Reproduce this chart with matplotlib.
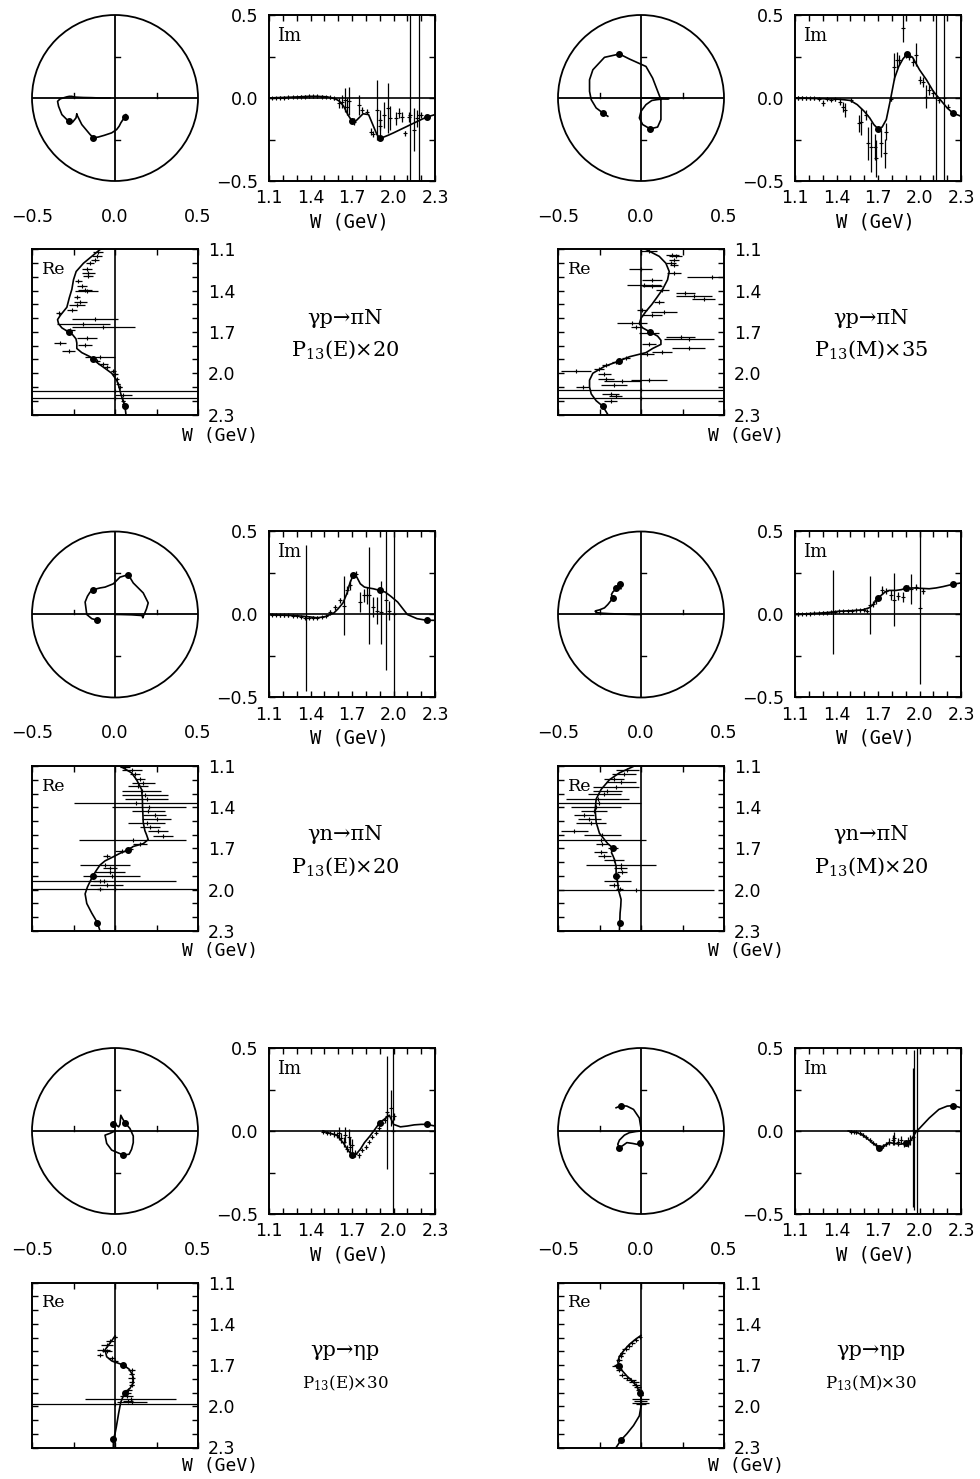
import numpy as np
import matplotlib
matplotlib.use('Agg')
from matplotlib import pyplot as plt

plt.rcParams['font.family'] = 'DejaVu Sans'
plt.rcParams['mathtext.fontset'] = 'dejavuserif'

# ---- panel 1: gamma p -> pi N, P13(E) x 20 ----
p1_w = [1.08, 1.10, 1.15, 1.20, 1.26, 1.32, 1.39, 1.45, 1.52, 1.58, 1.61, 1.64, 1.67, 1.70, 1.72,
        1.75, 1.78, 1.82, 1.85, 1.88, 1.90, 1.93, 1.96, 2.00, 2.05, 2.10, 2.15, 2.20, 2.24, 2.30]
p1_re = [-0.03, -0.09, -0.14, -0.19, -0.234, -0.25, -0.26, -0.275, -0.29, -0.33, -0.346, -0.34, -0.32, -0.28, -0.255,
         -0.235, -0.23, -0.23, -0.20, -0.15, -0.13, -0.10, -0.065, -0.02, 0.01, 0.025, 0.035, 0.048, 0.06, 0.066]
p1_im = [0.0, 0.0, 0.002, 0.003, 0.005, 0.007, 0.01, 0.01, 0.007, -0.005, -0.02, -0.05, -0.10, -0.14, -0.145,
         -0.12, -0.095, -0.10, -0.16, -0.22, -0.24, -0.235, -0.225, -0.21, -0.19, -0.17, -0.15, -0.13, -0.115, -0.10]
p1_dots = [1.70, 1.90, 2.24]
p1_im_w = [1.12, 1.15, 1.18, 1.21, 1.24, 1.27, 1.30, 1.33, 1.36, 1.39, 1.42, 1.45, 1.48, 1.51, 1.54, 1.57,
           1.605, 1.629, 1.653, 1.665, 1.677, 1.713, 1.749, 1.773, 1.81, 1.834, 1.853, 1.882, 1.90, 1.906,
           1.93, 1.962, 1.975, 2.015, 2.039, 2.063, 2.08, 2.112, 2.119, 2.148, 2.172, 2.184, 2.20, 2.232]
p1_im_v = [0.0, 0.0, 0.002, 0.003, 0.004, 0.005, 0.006, 0.008, 0.008, 0.01, 0.01, 0.01, 0.008, 0.006, 0.004, -0.002,
           -0.032, -0.022, -0.012, -0.052, -0.018, -0.143, -0.042, -0.072, -0.082, -0.203, -0.217, -0.07, -0.17, -0.133,
           -0.103, -0.06, -0.12, -0.123, -0.093, -0.113, -0.213, -0.113, -0.1, -0.19, -0.123, -0.1, -0.103, -0.117]
p1_im_e = [0.008, 0.008, 0.008, 0.008, 0.008, 0.008, 0.008, 0.008, 0.008, 0.008, 0.008, 0.008, 0.008, 0.008, 0.008, 0.008,
           0.03, 0.04, 0.07, 0.05, 0.083, 0.02, 0.06, 0.016, 0.016, 0.02, 0.016, 0.18, 0.05, 0.06,
           0.08, 0.15, 0.07, 0.04, 0.03, 0.03, 0.016, 0.03, 2.0, 0.13, 0.05, 2.0, 0.02, 0.01]
p1_re_w = [1.12, 1.144, 1.173, 1.198, 1.242, 1.271, 1.296, 1.332, 1.364, 1.393, 1.405, 1.442, 1.479, 1.503, 1.54,
           1.564, 1.608, 1.643, 1.662, 1.687, 1.743, 1.78, 1.797, 1.84, 1.882, 1.914, 1.931, 1.955, 1.98, 2.009,
           2.041, 2.078, 2.102, 2.127, 2.156, 2.183, 2.20, 2.224]
p1_re_v = [-0.10, -0.11, -0.12, -0.15, -0.17, -0.16, -0.16, -0.22, -0.20, -0.18, -0.17, -0.23, -0.21, -0.23, -0.26,
           -0.34, -0.12, -0.19, -0.07, -0.27, -0.17, -0.33, -0.18, -0.28, -0.09, -0.11, -0.07, -0.05, -0.01, 0.0,
           0.01, 0.02, 0.03, 0.0, 0.05, 0.0, 0.05, 0.054]
p1_re_e = [0.03, 0.03, 0.024, 0.024, 0.03, 0.04, 0.03, 0.02, 0.03, 0.04, 0.07, 0.02, 0.04, 0.05, 0.03,
           0.016, 0.14, 0.16, 0.19, 0.03, 0.06, 0.036, 0.04, 0.04, 0.09, 0.02, 0.03, 0.02, 0.016, 0.016,
           0.01, 0.01, 0.01, 2.0, 0.05, 2.0, 0.01, 0.01]

# ---- panel 2: gamma p -> pi N, P13(M) x 35 ----
p2_w = [1.08, 1.10, 1.15, 1.20, 1.26, 1.32, 1.39, 1.45, 1.50, 1.55, 1.60, 1.64, 1.67, 1.70, 1.73,
        1.76, 1.79, 1.82, 1.85, 1.88, 1.91, 1.95, 2.00, 2.05, 2.10, 2.15, 2.20, 2.24, 2.30]
p2_re = [0.0, 0.03, 0.11, 0.15, 0.17, 0.16, 0.13, 0.095, 0.065, 0.03, 0.0, -0.01, 0.01, 0.055, 0.10,
         0.12, 0.12, 0.07, 0.03, -0.07, -0.13, -0.22, -0.29, -0.31, -0.31, -0.30, -0.27, -0.23, -0.20]
p2_im = [0.0, 0.0, 0.0, -0.002, -0.003, -0.005, -0.006, -0.01, -0.015, -0.04, -0.08, -0.12, -0.16, -0.186, -0.175,
         -0.13, -0.01, 0.12, 0.19, 0.235, 0.265, 0.245, 0.17, 0.11, 0.04, -0.01, -0.06, -0.09, -0.11]
p2_dots = [1.70, 1.91, 2.24]
p2_im_w = [1.12, 1.15, 1.18, 1.21, 1.24, 1.27, 1.30, 1.33, 1.36, 1.39, 1.422, 1.446, 1.458, 1.506, 1.562,
           1.579, 1.61, 1.627, 1.651, 1.675, 1.687, 1.723, 1.747, 1.759, 1.795, 1.819, 1.836, 1.855, 1.879, 1.903,
           1.927, 1.951, 1.975, 2.0, 2.024, 2.048, 2.072, 2.096, 2.12, 2.144, 2.18, 2.204]
p2_im_v = [0.0, 0.0, -0.002, -0.003, -0.003, -0.005, -0.03, -0.005, -0.01, -0.008, -0.022, -0.052, -0.072, -0.012, -0.153,
           -0.143, -0.103, -0.274, -0.294, -0.294, -0.364, -0.274, -0.334, -0.203, -0.008, 0.189, 0.229, 0.229, 0.42, 0.26,
           0.25, 0.219, 0.26, 0.109, 0.099, 0.008, 0.048, 0.028, 0.0, -0.012, 0.0, -0.052]
p2_im_e = [0.01, 0.01, 0.01, 0.01, 0.01, 0.01, 0.02, 0.01, 0.01, 0.01, 0.02, 0.03, 0.04, 0.01, 0.05,
           0.08, 0.03, 0.10, 0.15, 0.08, 0.11, 0.08, 0.09, 0.05, 0.01, 0.08, 0.05, 0.03, 0.08, 0.02,
           0.02, 0.024, 0.07, 0.024, 0.03, 0.07, 0.03, 0.02, 2.0, 0.02, 2.0, 0.016]
p2_re_w = [1.112, 1.137, 1.149, 1.173, 1.198, 1.21, 1.242, 1.271, 1.303, 1.32, 1.357, 1.369, 1.393, 1.418, 1.435,
           1.462, 1.479, 1.54, 1.557, 1.577, 1.638, 1.662, 1.706, 1.74, 1.748, 1.784, 1.816, 1.845, 1.858, 1.887,
           1.919, 1.943, 1.968, 1.987, 2.009, 2.041, 2.046, 2.058, 2.082, 2.102, 2.122, 2.151, 2.168, 2.18, 2.205]
p2_re_v = [0.048, 0.188, 0.208, 0.198, 0.178, 0.198, -0.002, 0.198, 0.428, 0.068, 0.018, 0.068, 0.128, 0.268, 0.318,
           0.378, 0.108, 0.008, 0.138, 0.068, -0.052, -0.032, 0.048, 0.238, 0.288, 0.048, 0.288, 0.128, 0.038, -0.092,
           -0.152, -0.212, -0.252, -0.392, -0.222, -0.212, 0.048, -0.112, -0.162, -0.352, 0.0, -0.182, -0.152, 0.0, -0.182]
p2_re_e = [0.05, 0.04, 0.04, 0.03, 0.03, 0.024, 0.07, 0.04, 0.15, 0.06, 0.10, 0.06, 0.04, 0.06, 0.11,
           0.07, 0.03, 0.03, 0.08, 0.06, 0.09, 0.03, 0.06, 0.09, 0.15, 0.04, 0.10, 0.06, 0.04, 0.024,
           0.02, 0.02, 0.03, 0.09, 0.04, 0.05, 0.11, 0.11, 0.08, 0.04, 2.0, 0.05, 0.04, 2.0, 0.04]

# ---- panel 3: gamma n -> pi N, P13(E) x 20 ----
p3_w = [1.08, 1.10, 1.15, 1.20, 1.27, 1.34, 1.40, 1.45, 1.51, 1.57, 1.60, 1.635, 1.665, 1.685,
        1.71, 1.735, 1.76, 1.79, 1.82, 1.855, 1.90, 1.94, 1.98, 2.03, 2.10, 2.17, 2.24, 2.30]
p3_re = [0.0, 0.03, 0.10, 0.13, 0.16, 0.165, 0.166, 0.168, 0.17, 0.18, 0.19, 0.20, 0.17, 0.11,
         0.08, 0.03, -0.01, -0.06, -0.09, -0.11, -0.134, -0.15, -0.166, -0.18, -0.17, -0.14, -0.106, -0.09]
p3_im = [0.0, 0.0, -0.002, -0.004, -0.006, -0.01, -0.015, -0.02, -0.012, 0.01, 0.035, 0.07, 0.13, 0.19,
         0.24, 0.225, 0.185, 0.165, 0.16, 0.155, 0.145, 0.135, 0.11, 0.075, 0.0, -0.025, -0.035, -0.035]
p3_dots = [1.71, 1.90, 2.24]
p3_im_w = [1.12, 1.15, 1.18, 1.21, 1.24, 1.27, 1.30, 1.33, 1.36, 1.39, 1.42, 1.45, 1.48, 1.51,
           1.37, 1.544, 1.58, 1.612, 1.641, 1.665, 1.689, 1.708, 1.732, 1.761,
           1.786, 1.81, 1.822, 1.853, 1.882, 1.913, 1.943, 1.967, 2.003]
p3_im_v = [-0.003, -0.003, -0.005, -0.005, -0.006, -0.008, -0.01, -0.015, -0.02, -0.02, -0.02, -0.02, -0.015, -0.01,
           -0.02, 0.014, 0.044, 0.085, 0.054, 0.149, 0.175, 0.235, 0.245, 0.074,
           0.115, 0.115, 0.115, 0.044, 0.024, 0.014, 0.085, 0.024, 0.0]
p3_im_e = [0.008, 0.008, 0.008, 0.008, 0.008, 0.008, 0.008, 0.008, 0.008, 0.008, 0.008, 0.008, 0.008, 0.008,
           0.44, 0.016, 0.016, 0.016, 0.18, 0.024, 0.03, 0.016, 0.016, 0.06,
           0.04, 0.05, 0.29, 0.06, 0.08, 0.19, 0.42, 0.06, 2.0]
p3_re_w = [1.105, 1.129, 1.161, 1.192, 1.222, 1.246, 1.283, 1.314, 1.339, 1.368, 1.399, 1.429, 1.46, 1.489, 1.514,
           1.543, 1.575, 1.611, 1.635, 1.665, 1.704, 1.721, 1.757, 1.818, 1.842, 1.874, 1.903, 1.903, 1.935, 1.94,
           1.969, 1.996, 1.998]
p3_re_v = [0.06, 0.10, 0.12, 0.15, 0.17, 0.14, 0.16, 0.18, 0.19, 0.128, 0.204, 0.20, 0.24, 0.25, 0.19,
           0.21, 0.26, 0.29, 0.106, 0.15, 0.09, 0.04, -0.05, -0.06, -0.03, -0.03, -0.02, -0.13, -0.066, -0.09,
           -0.05, -0.09, 0.0]
p3_re_e = [0.03, 0.06, 0.03, 0.03, 0.07, 0.06, 0.12, 0.14, 0.13, 0.378, 0.224, 0.10, 0.07, 0.09, 0.11,
           0.06, 0.06, 0.06, 0.324, 0.04, 0.016, 0.04, 0.02, 0.15, 0.04, 0.09, 0.17, 0.02, 0.436, 0.04,
           0.10, 0.02, 2.0]

# ---- panel 4: gamma n -> pi N, P13(M) x 20 ----
p4_w = [1.08, 1.10, 1.15, 1.20, 1.27, 1.34, 1.42, 1.51, 1.59, 1.635, 1.665, 1.685, 1.70,
        1.73, 1.75, 1.78, 1.83, 1.87, 1.90, 1.95, 2.00, 2.07, 2.12, 2.17, 2.24, 2.30]
p4_re = [0.0, -0.04, -0.13, -0.19, -0.24, -0.27, -0.276, -0.27, -0.25, -0.22, -0.20, -0.18, -0.17,
         -0.178, -0.17, -0.16, -0.15, -0.15, -0.15, -0.14, -0.136, -0.12, -0.122, -0.126, -0.128, -0.13]
p4_im = [0.0, 0.0, 0.003, 0.005, 0.008, 0.012, 0.02, 0.023, 0.028, 0.04, 0.06, 0.085, 0.10,
         0.12, 0.135, 0.145, 0.145, 0.15, 0.158, 0.16, 0.158, 0.155, 0.16, 0.168, 0.182, 0.19]
p4_dots = [1.70, 1.90, 2.24]
p4_im_w = [1.12, 1.15, 1.18, 1.21, 1.24, 1.27, 1.30, 1.33, 1.36, 1.39, 1.42, 1.45, 1.48, 1.51, 1.54, 1.57, 1.60, 1.62,
           1.374, 1.639, 1.663, 1.687, 1.73, 1.759, 1.795, 1.819, 1.843, 1.879, 1.915, 1.939, 1.975, 2.004, 2.024]
p4_im_v = [0.0, 0.003, 0.004, 0.006, 0.008, 0.009, 0.012, 0.012, 0.015, 0.016, 0.02, 0.02, 0.022, 0.022, 0.025, 0.025, 0.03, 0.02,
           0.016, 0.056, 0.064, 0.085, 0.149, 0.141, 0.115, 0.09, 0.109, 0.105, 0.159, 0.155, 0.165, 0.04, 0.141]
p4_im_e = [0.008, 0.008, 0.008, 0.008, 0.008, 0.008, 0.008, 0.008, 0.008, 0.008, 0.008, 0.008, 0.008, 0.008, 0.008, 0.008, 0.008, 0.008,
           0.254, 0.173, 0.02, 0.02, 0.024, 0.02, 0.03, 0.16, 0.024, 0.03, 0.02, 0.09, 0.02, 0.46, 0.02]
p4_re_w = [1.129, 1.161, 1.192, 1.217, 1.251, 1.283, 1.307, 1.339, 1.368, 1.399, 1.429, 1.46, 1.485, 1.514, 1.575,
           1.599, 1.635, 1.665, 1.696, 1.728, 1.757, 1.786, 1.818, 1.842, 1.874, 1.903, 1.935, 1.969, 1.996, 2.0]
p4_re_v = [-0.082, -0.102, -0.162, -0.122, -0.152, -0.202, -0.222, -0.262, -0.252, -0.272, -0.282, -0.342, -0.312, -0.302, -0.402,
           -0.232, -0.238, -0.232, -0.168, -0.242, -0.222, -0.162, -0.122, -0.122, -0.112, -0.148, -0.142, -0.162, -0.128, -0.032]
p4_re_e = [0.07, 0.07, 0.06, 0.09, 0.14, 0.09, 0.10, 0.19, 0.25, 0.15, 0.08, 0.06, 0.07, 0.09, 0.08,
           0.11, 0.266, 0.04, 0.03, 0.04, 0.04, 0.06, 0.21, 0.04, 0.03, 0.02, 0.08, 0.03, 0.02, 0.47]

# ---- panel 5: gamma p -> eta p, P13(E) x 30 ----
p5_w = [1.49, 1.54, 1.59, 1.64, 1.67, 1.70, 1.73, 1.76, 1.79, 1.83, 1.87,
        1.90, 1.94, 1.97, 2.00, 2.05, 2.10, 2.15, 2.20, 2.24, 2.30]
p5_re = [0.0, -0.03, -0.06, -0.05, -0.02, 0.05, 0.085, 0.10, 0.11, 0.11, 0.09,
         0.06, 0.045, 0.035, 0.03, 0.022, 0.015, 0.008, 0.0, -0.01, -0.01]
p5_im = [0.0, -0.014, -0.025, -0.075, -0.115, -0.145, -0.14, -0.11, -0.07, -0.03, 0.015,
         0.05, 0.075, 0.095, 0.04, 0.025, 0.03, 0.037, 0.04, 0.04, 0.03]
p5_dots = [1.70, 1.90, 2.24]
p5_im_w = [1.491, 1.52, 1.544, 1.568, 1.592, 1.605, 1.617, 1.641, 1.653, 1.665, 1.677, 1.689, 1.701, 1.725,
           1.749, 1.773, 1.798, 1.822, 1.846, 1.87, 1.894, 1.918, 1.935, 1.955, 1.95, 1.979, 2.003, 1.998]
p5_im_v = [-0.004, -0.01, -0.014, -0.018, -0.024, -0.014, -0.045, -0.065, -0.024, -0.106, -0.035, -0.096, -0.086, -0.137,
           -0.147, -0.116, -0.096, -0.065, -0.035, -0.01, 0.016, 0.047, 0.067, 0.092, 0.114, 0.139, 0.088, 0.0]
p5_im_e = [0.01, 0.01, 0.01, 0.016, 0.02, 0.04, 0.03, 0.03, 0.05, 0.02, 0.05, 0.06, 0.04, 0.02,
           0.016, 0.01, 0.01, 0.01, 0.01, 0.01, 0.01, 0.01, 0.016, 0.02, 0.34, 0.11, 0.02, 2.0]
p5_re_w = [1.498, 1.527, 1.551, 1.588, 1.6, 1.629, 1.649, 1.673, 1.705, 1.734, 1.763,
           1.795, 1.82, 1.844, 1.88, 1.905, 1.924, 1.946, 1.959, 1.966, 1.985]
p5_re_v = [0.0, -0.03, -0.05, -0.07, -0.05, -0.09, -0.02, 0.0, 0.05, 0.10, 0.10,
           0.10, 0.10, 0.10, 0.08, 0.07, 0.07, 0.094, 0.08, 0.10, 0.0]
p5_re_e = [0.01, 0.024, 0.036, 0.04, 0.03, 0.02, 0.02, 0.016, 0.016, 0.02, 0.016,
           0.02, 0.016, 0.016, 0.02, 0.024, 0.04, 0.276, 0.03, 0.09, 2.0]

# ---- panel 6: gamma p -> eta p, P13(M) x 30 ----
p6_w = [1.485, 1.51, 1.55, 1.59, 1.637, 1.675, 1.71, 1.746, 1.78, 1.82,
        1.855, 1.90, 1.94, 1.975, 2.00, 2.07, 2.14, 2.20, 2.245, 2.30]
p6_re = [0.0, -0.03, -0.07, -0.10, -0.13, -0.14, -0.13, -0.11, -0.085, -0.05,
         -0.025, -0.008, 0.0, 0.0, 0.0, -0.01, -0.045, -0.085, -0.12, -0.15]
p6_im = [0.0, -0.003, -0.01, -0.025, -0.055, -0.08, -0.10, -0.088, -0.07, -0.075,
         -0.08, -0.075, -0.055, -0.004, 0.016, 0.078, 0.13, 0.15, 0.153, 0.14]
p6_dots = [1.71, 1.90, 2.245]
p6_im_w = [1.506, 1.53, 1.543, 1.567, 1.591, 1.615, 1.639, 1.663, 1.687, 1.711, 1.735, 1.759,
           1.783, 1.807, 1.819, 1.843, 1.867, 1.891, 1.915, 1.932, 1.951, 1.963, 1.983]
p6_im_v = [-0.004, -0.006, -0.008, -0.014, -0.024, -0.039, -0.055, -0.071, -0.086, -0.102, -0.092, -0.08,
           -0.065, -0.055, -0.045, -0.065, -0.055, -0.075, -0.065, -0.055, -0.039, 0.006, 0.0]
p6_im_e = [0.008, 0.008, 0.008, 0.008, 0.01, 0.01, 0.01, 0.01, 0.012, 0.012, 0.012, 0.012,
           0.02, 0.03, 0.04, 0.024, 0.024, 0.02, 0.03, 0.03, 0.42, 0.48, 2.0]
p6_re_w = [1.495, 1.515, 1.539, 1.563, 1.583, 1.612, 1.637, 1.661, 1.698, 1.71, 1.739, 1.771,
           1.795, 1.807, 1.827, 1.844, 1.861, 1.88, 1.917, 1.949, 1.961, 1.973, 1.983]
p6_re_v = [-0.008, -0.032, -0.052, -0.072, -0.092, -0.112, -0.122, -0.132, -0.142, -0.152, -0.132, -0.112,
           -0.082, -0.062, -0.042, -0.032, -0.022, -0.012, -0.002, -0.002, -0.002, -0.002, -0.002]
p6_re_e = [0.01, 0.016, 0.016, 0.02, 0.02, 0.016, 0.016, 0.02, 0.02, 0.024, 0.016, 0.02,
           0.024, 0.03, 0.03, 0.024, 0.02, 0.02, 0.016, 0.05, 0.04, 0.05, 0.03]

reactions = ['γp→πN', 'γp→πN', 'γn→πN', 'γn→πN', 'γp→ηp', 'γp→ηp']
amp_labels = [r'P$_{13}$(E)×20', r'P$_{13}$(M)×35', r'P$_{13}$(E)×20',
              r'P$_{13}$(M)×20', r'P$_{13}$(E)×30', r'P$_{13}$(M)×30']

w_ticks = [1.1, 1.4, 1.7, 2.0, 2.3]
w_minor = [1.2, 1.3, 1.5, 1.6, 1.8, 1.9, 2.1, 2.2]
w_labels = ['1.1', '1.4', '1.7', '2.0', '2.3']
a_ticks = [-0.5, 0.0, 0.5]
a_minor = [-0.25, 0.25]
a_labels = ['\u22120.5', '0.0', '0.5']

FW, FH = 980.0, 1479.0
fig = plt.figure(figsize=(9.8, 14.79), dpi=100)


def box(x, y, w, h):
    return fig.add_axes([x / FW, 1 - (y + h) / FH, w / FW, h / FH])


def panel(col, row, w, re, im, dots, imw, imv, ime, rew, rev, ree, reaction, amp, small):
    xa = 32 + 526 * col
    xb = 269 + 526 * col
    ya = 15 + 516.5 * row
    yb = 249.5 + 516.5 * row
    idx = [w.index(d) for d in dots]
    dw = [w[i] for i in idx]
    dre = [re[i] for i in idx]
    dim = [im[i] for i in idx]

    # argand circle
    ax = box(xa, ya, 166, 166)
    ax.set_xlim(-0.5, 0.5)
    ax.set_ylim(-0.5, 0.5)
    ax.axis('off')
    ax.add_patch(plt.Circle((0, 0), 0.5, fill=False, lw=1.3, clip_on=False))
    ax.plot([-0.5, 0.5], [0, 0], 'k-', lw=1.3)
    ax.plot([0, 0], [-0.5, 0.5], 'k-', lw=1.3)
    for t in a_minor:
        ax.plot([t, t], [0, 0.03], 'k-', lw=1.0)
        ax.plot([0, 0.03], [t, t], 'k-', lw=1.0)
    ax.plot(re, im, 'k-', lw=1.2)
    ax.plot(dre, dim, 'ko', ms=4)

    # imaginary part vs W
    ax = box(xb, ya, 166, 166)
    ax.set_xlim(1.1, 2.3)
    ax.set_ylim(-0.5, 0.5)
    ax.axhline(0, color='k', lw=1.2)
    ax.errorbar(imw, imv, yerr=ime, fmt='+', color='k', ms=3, mew=0.8, elinewidth=0.9, capsize=0)
    ax.plot(w, im, 'k-', lw=1.2)
    ax.plot(dw, dim, 'ko', ms=4)
    ax.set_xticks(w_ticks)
    ax.set_xticks(w_minor, minor=True)
    ax.set_xticklabels(w_labels)
    ax.set_yticks(a_ticks)
    ax.set_yticks(a_minor, minor=True)
    ax.set_yticklabels(a_labels)
    ax.tick_params(which='both', direction='in', top=True, right=True, length=4, width=1, labelsize=12.5)
    ax.tick_params(axis='x', pad=6)
    ax.tick_params(axis='y', pad=8)
    for s in ax.spines.values():
        s.set_linewidth(1.4)
    ax.text(0.05, 0.93, 'Im', transform=ax.transAxes, ha='left', va='top',
            family='DejaVu Serif', fontsize=13)
    fig.text((349 + 526 * col) / FW, 1 - (222 + 516.5 * row) / FH, 'W (GeV)',
             ha='center', va='center', family='DejaVu Sans Mono', fontsize=13.5)

    # real part vs W (rotated)
    ax = box(xa, yb, 166, 165)
    ax.set_xlim(-0.5, 0.5)
    ax.set_ylim(2.3, 1.1)
    ax.axvline(0, color='k', lw=1.2)
    ax.errorbar(rev, rew, xerr=ree, fmt='+', color='k', ms=3, mew=0.8, elinewidth=0.9, capsize=0)
    ax.plot(re, w, 'k-', lw=1.2)
    ax.plot(dre, dw, 'ko', ms=4)
    ax.set_xticks(a_ticks)
    ax.set_xticks(a_minor, minor=True)
    ax.set_xticklabels(a_labels)
    ax.set_yticks(w_ticks)
    ax.set_yticks(w_minor, minor=True)
    ax.set_yticklabels(w_labels)
    ax.tick_params(which='both', direction='in', top=True, bottom=True, left=True, right=True,
                   length=4, width=1, labelsize=12.5,
                   labeltop=True, labelbottom=False, labelright=True, labelleft=False)
    ax.tick_params(axis='x', pad=17)
    ax.tick_params(axis='y', pad=7)
    for s in ax.spines.values():
        s.set_linewidth(1.4)
    ax.text(0.06, 0.93, 'Re', transform=ax.transAxes, ha='left', va='top',
            family='DejaVu Serif', fontsize=12.5)
    fig.text((220 + 526 * col) / FW, 1 - (436 + 515 * row) / FH, 'W (GeV)',
             ha='center', va='center', family='DejaVu Sans Mono', fontsize=13)

    # reaction label
    fig.text((345 + 526 * col) / FW, 1 - (318 + 516.5 * row) / FH, reaction,
             ha='center', va='center', family='DejaVu Serif', fontsize=15)
    fig.text((345 + 526 * col) / FW, 1 - (350 + 516.5 * row) / FH, amp,
             ha='center', va='center', family='DejaVu Serif', fontsize=12 if small else 15)


panel(0, 0, p1_w, p1_re, p1_im, p1_dots, p1_im_w, p1_im_v, p1_im_e, p1_re_w, p1_re_v, p1_re_e,
      reactions[0], amp_labels[0], False)
panel(1, 0, p2_w, p2_re, p2_im, p2_dots, p2_im_w, p2_im_v, p2_im_e, p2_re_w, p2_re_v, p2_re_e,
      reactions[1], amp_labels[1], False)
panel(0, 1, p3_w, p3_re, p3_im, p3_dots, p3_im_w, p3_im_v, p3_im_e, p3_re_w, p3_re_v, p3_re_e,
      reactions[2], amp_labels[2], False)
panel(1, 1, p4_w, p4_re, p4_im, p4_dots, p4_im_w, p4_im_v, p4_im_e, p4_re_w, p4_re_v, p4_re_e,
      reactions[3], amp_labels[3], False)
panel(0, 2, p5_w, p5_re, p5_im, p5_dots, p5_im_w, p5_im_v, p5_im_e, p5_re_w, p5_re_v, p5_re_e,
      reactions[4], amp_labels[4], True)
panel(1, 2, p6_w, p6_re, p6_im, p6_dots, p6_im_w, p6_im_v, p6_im_e, p6_re_w, p6_re_v, p6_re_e,
      reactions[5], amp_labels[5], True)

fig.savefig('out.png', dpi=100)
